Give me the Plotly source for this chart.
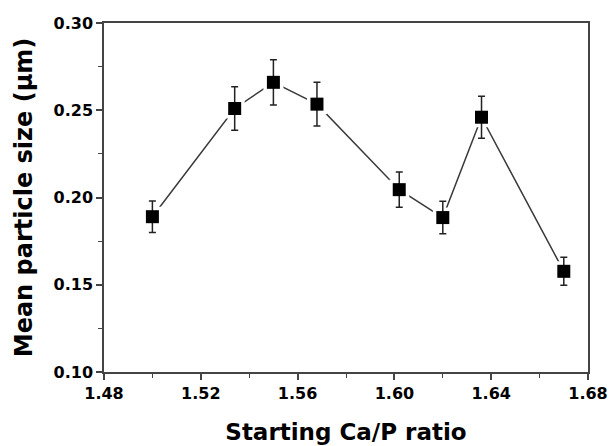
import plotly.graph_objects as go

ca_p_ratio = [1.50, 1.534, 1.55, 1.568, 1.602, 1.62, 1.636, 1.67]
mean_size = [0.189, 0.251, 0.266, 0.2535, 0.2045, 0.1885, 0.246, 0.1577]
size_err = [0.009, 0.0125, 0.013, 0.0125, 0.0101, 0.0093, 0.012, 0.008]

x_ticks = [1.48, 1.52, 1.56, 1.60, 1.64, 1.68]
y_ticks = [0.10, 0.15, 0.20, 0.25, 0.30]

FONT = "DejaVu Sans"

fig = go.Figure()
fig.add_trace(go.Scatter(x=ca_p_ratio, y=mean_size, mode="lines",
                         line=dict(color="#3a3a3a", width=1.5), showlegend=False))
fig.add_trace(go.Scatter(x=ca_p_ratio, y=mean_size, mode="markers",
                         marker=dict(symbol="square", size=20, color="white"),
                         showlegend=False))
fig.add_trace(go.Scatter(x=ca_p_ratio, y=mean_size, mode="markers",
                         marker=dict(symbol="square", size=13, color="black"),
                         error_y=dict(type="data", array=size_err, visible=True,
                                      color="#222222", thickness=1.5, width=3.5),
                         showlegend=False))

axis_font = dict(family=FONT, size=16, color="black")
common = dict(ticks="outside", ticklen=6, tickwidth=1.5, tickcolor="#444",
              showline=True, linecolor="#444", linewidth=1.5, mirror=True,
              showgrid=False, zeroline=False, tickfont=axis_font, automargin=False,
              ticklabeloverflow="allow")
fig.update_xaxes(range=[1.48, 1.68], tickvals=x_ticks,
                 ticktext=[f"<b>{v:.2f}</b>" for v in x_ticks],
                 minor=dict(dtick=0.02, ticks="outside", ticklen=4, tickwidth=1.2, tickcolor="#444"),
                 title=dict(text="<b>Starting Ca/P ratio</b>", standoff=22,
                            font=dict(family=FONT, size=23, color="black")),
                 **common)
fig.update_yaxes(range=[0.10, 0.30], tickvals=y_ticks,
                 ticktext=[f"<b>{v:.2f}</b>" for v in y_ticks],
                 minor=dict(dtick=0.025, ticks="outside", ticklen=4, tickwidth=1.2, tickcolor="#444"),
                 title=dict(text="<b>Mean particle size (μm)</b>", standoff=14,
                            font=dict(family=FONT, size=24, color="black")),
                 **common)
fig.update_layout(width=610, height=446, margin=dict(l=104, r=22, t=23, b=74),
                  plot_bgcolor="white", paper_bgcolor="white")
# remove the browser's default 8px body margin so the figure fills the window
fig.write_html("out.html", config={"displayModeBar": False},
               post_script="document.body.style.margin='0px';document.body.style.overflow='hidden';")
